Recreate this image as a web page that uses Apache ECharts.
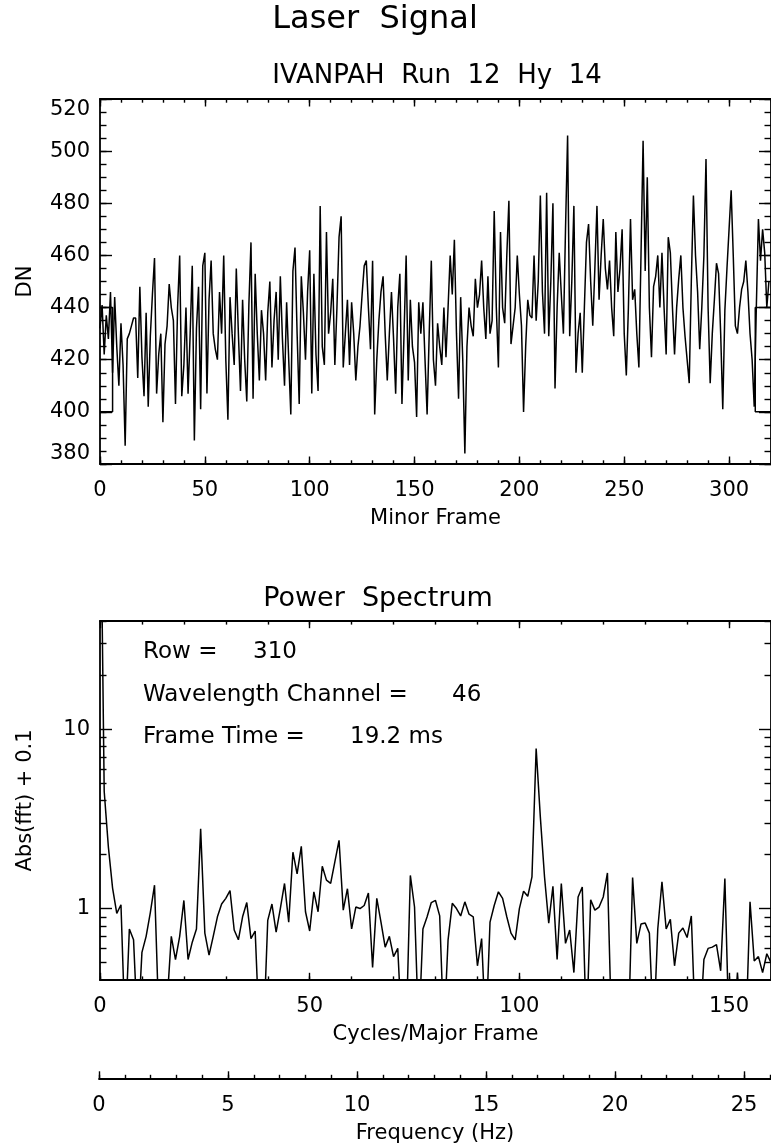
<!DOCTYPE html>
<html>
<head>
<meta charset="utf-8">
<script src="https://cdn.jsdelivr.net/npm/echarts@6/dist/echarts.min.js"></script>
<style>
html,body{margin:0;padding:0;background:#fff;}
#chart{width:771px;height:1147px;}
</style>
</head>
<body>
<div id="chart"></div>
<script>
// ---- Data ----
const minorFrameValues = [
432,441,422,437,428,446,415,444,425,410,434,418,387,428,430,433,436,436,413,448,
421,406,438,402,429,445,459,407,422,430,396,426,433,449,440,435,403,440,460,406,
418,440,407,430,456,389,432,448,401,456,461,407,443,458,430,424,420,446,430,460,
420,397,444,430,418,455,430,408,443,420,404,441,465,405,453,430,412,439,430,412,
438,450,417,435,446,420,452,428,410,442,420,399,454,463,430,403,452,438,420,446,
462,407,453,422,408,479,425,418,469,430,438,451,418,440,467,475,417,430,443,418,
442,430,412,425,433,445,456,458,440,424,458,399,420,435,446,452,430,412,430,446,
428,407,440,453,403,430,460,412,443,425,419,398,442,430,442,420,399,430,458,420,
410,434,425,418,440,421,440,460,445,466,430,405,444,420,384,425,440,433,429,451,
440,445,458,440,428,452,430,435,477,440,417,469,440,434,460,481,426,433,440,460,
445,433,400,425,443,437,436,460,435,450,483,446,430,484,429,450,480,409,440,461,
445,430,470,506,429,450,479,415,430,438,415,440,465,472,450,433,455,479,443,460,
474,455,447,458,440,429,469,446,455,470,430,414,440,474,443,447,430,417,460,504,
454,490,440,421,448,452,460,440,461,440,422,467,461,440,422,440,451,460,440,429,
420,411,450,483,460,446,424,440,460,497,440,411,430,443,457,453,430,401,439,455,
470,485,460,433,430,440,447,450,458,446,430,420,402,440,474,458,470,461,440,450
];
// bracket marks drawn at the left and right ends of the signal plot [frame, DN]
const bracketLeft = [[0,440],[6,440],[6,400],[0,400]];
const bracketRight = [[320,440],[312.5,440],[312.5,400],[320,400]];

// Abs(fft)+0.1, index = cycles per major frame (0..160)
const spectrumValues = [
435,4.5,2.2,1.3,0.94,1.05,0.2,0.77,0.67,0.2,
0.57,0.70,0.95,1.35,0.25,0.15,0.3,0.70,0.52,0.70,
1.11,0.52,0.65,0.77,2.78,0.73,0.55,0.70,0.90,1.06,
1.14,1.26,0.76,0.67,0.90,1.08,0.68,0.75,0.2,0.2,
0.86,1.06,0.74,1.0,1.38,0.84,2.06,1.56,2.22,0.96,
0.75,1.24,0.96,1.72,1.44,1.38,1.82,2.40,0.98,1.29,
0.77,1.02,1.0,1.04,1.22,0.47,1.14,0.84,0.61,0.70,
0.54,0.60,0.2,0.2,1.53,1.02,0.2,0.77,0.90,1.08,
1.11,0.91,0.2,0.67,1.07,1.0,0.91,1.09,0.93,0.90,
0.48,0.68,0.2,0.84,1.04,1.24,1.14,0.90,0.73,0.67,
1.0,1.25,1.17,1.50,7.8,3.23,1.5,0.83,1.33,0.52,
1.38,0.64,0.76,0.44,1.16,1.32,0.2,1.12,0.98,1.02,
1.16,1.58,0.2,0.2,0.2,0.2,0.2,1.49,0.64,0.82,
0.83,0.73,0.2,0.77,1.41,0.77,0.87,0.48,0.73,0.78,
0.69,0.91,0.2,0.2,0.52,0.60,0.61,0.63,0.45,1.47,
0.2,0.2,0.44,0.2,0.2,1.09,0.51,0.54,0.44,0.56,
0.5
];

// tick values / labels
const frameLabels = [0,50,100,150,200,250,300];
const dnLabels = [380,400,420,440,460,480,500,520];
const cycleLabels = [0,50,100,150];
const powerLabels = [1,10];
const powerMinor = [0.5,0.6,0.7,0.8,0.9,2,3,4,5,6,7,8,9,20,30,40];
const hzLabels = [0,5,10,15,20,25];

// annotation texts
const rowText = ['Row =', '310'];
const channelText = ['Wavelength Channel =', '46'];
const frameTimeText = ['Frame Time =', '19.2 ms'];

const frameTimeMs = 19.2;
const framesPerMajor = 320;
const hzMax = 160 / (framesPerMajor * frameTimeMs / 1000);

function range(a, b, step) { const r = []; for (let v = a; v <= b + 1e-9; v += step) r.push(+v.toFixed(6)); return r; }

const FONT = 'DejaVu Sans';
const BLACK = '#000';

function axis(o) {
  return {
    type: o.type || 'value',
    logBase: 10,
    gridIndex: o.grid,
    position: o.pos,
    min: o.min, max: o.max,
    silent: true,
    axisLine: { show: o.line !== false, onZero: false, lineStyle: { color: BLACK, width: 1.8 } },
    axisTick: { show: true, inside: true, length: o.len, customValues: o.ticks,
                lineStyle: { color: BLACK, width: 1.4 } },
    axisLabel: o.labels ? Object.assign({
      show: true, customValues: o.labels, color: BLACK, fontFamily: FONT, fontSize: 21,
      margin: o.margin
    }, o.labelExtra || {}) : { show: false },
    splitLine: { show: false },
    minorTick: { show: false },
    name: o.name || '',
    nameLocation: 'middle',
    nameGap: o.nameGap,
    nameTextStyle: { color: BLACK, fontFamily: FONT, fontSize: 21 }
  };
}

const xAxes = [
  // signal plot
  axis({grid:0,pos:'bottom',min:0,max:320,ticks:frameLabels,len:7.5,labels:frameLabels,margin:16,name:'Minor Frame',nameGap:44}),
  axis({grid:0,pos:'bottom',min:0,max:320,ticks:range(0,320,10),len:3.7,line:false}),
  axis({grid:0,pos:'top',min:0,max:320,ticks:frameLabels,len:7.5}),
  axis({grid:0,pos:'top',min:0,max:320,ticks:range(0,320,10),len:3.7,line:false}),
  // spectrum plot
  axis({grid:1,pos:'bottom',min:0,max:160,ticks:cycleLabels,len:7.2,labels:cycleLabels,margin:16,name:'Cycles/Major Frame',nameGap:44}),
  axis({grid:1,pos:'bottom',min:0,max:160,ticks:range(0,160,10),len:3.6,line:false}),
  axis({grid:1,pos:'top',min:0,max:160,ticks:cycleLabels,len:7.2}),
  axis({grid:1,pos:'top',min:0,max:160,ticks:range(0,160,10),len:3.6,line:false}),
  // frequency axis
  axis({grid:2,pos:'bottom',min:0,max:hzMax,ticks:hzLabels,len:7,labels:hzLabels,margin:17,name:'Frequency (Hz)',nameGap:45}),
  axis({grid:2,pos:'bottom',min:0,max:hzMax,ticks:range(0,26,1),len:3.5,line:false})
];

const yAxes = [
  axis({grid:0,pos:'left',min:380,max:520,ticks:dnLabels,len:12,labels:dnLabels,margin:10,name:'DN',nameGap:64,
    labelExtra:{verticalAlignMaxLabel:'top',verticalAlignMinLabel:'bottom'}}),
  axis({grid:0,pos:'left',min:380,max:520,ticks:range(380,520,5),len:6.5,line:false}),
  axis({grid:0,pos:'right',min:380,max:520,ticks:dnLabels,len:12}),
  axis({grid:0,pos:'right',min:380,max:520,ticks:range(380,520,5),len:6.5,line:false}),
  axis({grid:1,type:'log',pos:'left',min:0.4,max:40,ticks:powerLabels,len:12,labels:powerLabels,margin:10,name:'Abs(fft) + 0.1',nameGap:64}),
  axis({grid:1,type:'log',pos:'left',min:0.4,max:40,ticks:powerMinor,len:6.5,line:false}),
  axis({grid:1,type:'log',pos:'right',min:0.4,max:40,ticks:powerLabels,len:12}),
  axis({grid:1,type:'log',pos:'right',min:0.4,max:40,ticks:powerMinor,len:6.5,line:false}),
  { type:'value', gridIndex:2, show:false, min:0, max:1 }
];

function note(x, y, text) {
  return { type: 'text', x: x, y: y, silent: true,
    style: { text: text, fill: BLACK, font: '23px "DejaVu Sans"', verticalAlign: 'middle', align: 'left' } };
}

const lineStyle = { color: BLACK, width: 1.5 };
const titleStyle = (size) => ({ color: BLACK, fontFamily: FONT, fontSize: size, fontWeight: 'normal' });
const option = {
  animation: false,
  backgroundColor: '#fff',
  title: [
    { text: 'Laser  Signal', left: 375, top: 4, textAlign: 'center', padding: 0, textStyle: titleStyle(32) },
    { text: 'IVANPAH  Run  12  Hy  14', left: 437, top: 63, textAlign: 'center', padding: 0, textStyle: titleStyle(26) },
    { text: 'Power  Spectrum', left: 378, top: 585, textAlign: 'center', padding: 0, textStyle: titleStyle(27) }
  ],
  grid: [
    { left: 100, top: 99, width: 675.5, height: 365 },
    { left: 100, top: 621, width: 675.5, height: 359 },
    { left: 99, top: 1000, width: 672, height: 78.3 }
  ],
  xAxis: xAxes,
  yAxis: yAxes,
  graphic: [
    note(143, 652, rowText[0]), note(253, 652, rowText[1]),
    note(143, 695, channelText[0]), note(452, 695, channelText[1]),
    note(143, 737, frameTimeText[0]), note(350, 737, frameTimeText[1])
  ],
  series: [
    { type: 'line', xAxisIndex: 0, yAxisIndex: 0, showSymbol: false, clip: true,
      data: minorFrameValues.map((v, i) => [i, v]), lineStyle },
    { type: 'line', xAxisIndex: 0, yAxisIndex: 0, showSymbol: false, clip: true, data: bracketLeft, lineStyle },
    { type: 'line', xAxisIndex: 0, yAxisIndex: 0, showSymbol: false, clip: true, data: bracketRight, lineStyle },
    { type: 'line', xAxisIndex: 4, yAxisIndex: 4, showSymbol: false, clip: true,
      data: spectrumValues.map((v, i) => [i, v]), lineStyle }
  ]
};

const chart = echarts.init(document.getElementById('chart'));
chart.setOption(option);
</script>
</body>
</html>
